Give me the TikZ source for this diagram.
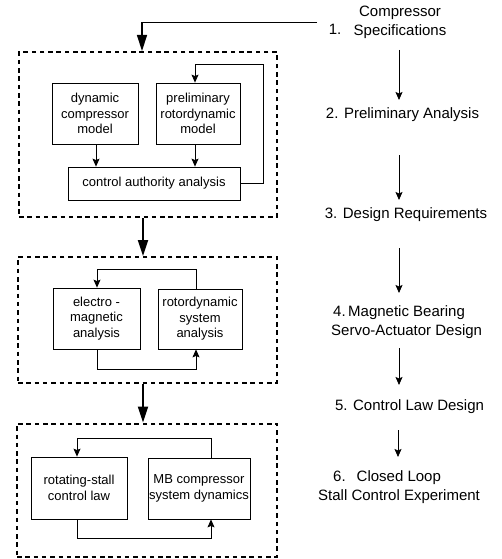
\documentclass[tikz,border=0pt]{standalone}
\usepackage{fontspec}
\setmainfont{Liberation Sans}
\usetikzlibrary{arrows.meta}
\begin{document}
\begin{tikzpicture}[x=1pt,y=-1pt,
  box/.style={draw,line width=0.8pt,align=center,inner sep=0pt,font=\fontsize{13}{15.5}\selectfont},
  group/.style={draw,line width=2pt,dash pattern=on 4.5pt off 3.8pt,inner sep=0pt},
  thinarr/.style={line width=0.8pt,-{Stealth[length=8pt,width=7pt,inset=1.5pt]}},
  thickarr/.style={line width=1.8pt,-{Triangle[length=16pt,width=10pt]}},
  lbl/.style={inner sep=0pt,font=\fontsize{15}{18.5}\selectfont}]
\useasboundingbox (0,0) rectangle (502,559);

% dashed groups
\node[group,minimum width=258,minimum height=165] (g1) at (148,134.5) {};
\node[group,minimum width=259,minimum height=126] (g2) at (147.5,320) {};
\node[group,minimum width=260,minimum height=133] (g3) at (147,490) {};

% group 1
\node[box,minimum width=86,minimum height=61] (dcm) at (95,113.5) {dynamic\\compressor\\model};
\node[box,minimum width=84,minimum height=61] (prm) at (198,113.5) {preliminary\\rotordynamic\\model};
\node[box,minimum width=172,minimum height=33] (caa) at (154,183.5) {control authority analysis};
\draw[thinarr] ([xshift=1pt]dcm.south) -- ([xshift=1pt]dcm.south |- caa.north);
\draw[thinarr] ([xshift=-3pt]prm.south) -- ([xshift=-3pt]prm.south |- caa.north);
\coordinate (fb1) at (263,64);
\draw[thinarr] (caa.east) -| (fb1) -| ([xshift=-3pt]prm.north);

% group 2
\node[box,minimum width=87,minimum height=61] (ema) at (96.5,318.5) {electro -\\magnetic\\analysis};
\node[box,minimum width=84,minimum height=60] (rsa) at (200,319) {rotordynamic\\system\\analysis};
\coordinate (fb2t) at (196,269);
\coordinate (fb2b) at (97,369);
\draw[thinarr] ([xshift=-4pt]rsa.north) -- ([xshift=-4pt]rsa.north |- fb2t) -| ([xshift=0.5pt]ema.north);
\draw[thinarr] ([xshift=0.5pt]ema.south) -- ([xshift=0.5pt]ema.south |- fb2b) -| ([xshift=-4pt]rsa.south);

% group 3
\node[box,minimum width=96,minimum height=62] (rsc) at (79,488) {rotating-stall\\control law};
\node[box,minimum width=102,minimum height=61] (mbc) at (199,488.5) {MB compressor\\system dynamics};
\coordinate (fb3t) at (211,438);
\coordinate (fb3b) at (77,538);
\draw[thinarr] ([xshift=12pt]mbc.north) -- ([xshift=12pt]mbc.north |- fb3t) -| ([xshift=-2pt]rsc.north);
\draw[thinarr] ([xshift=-2pt]rsc.south) -- ([xshift=-2pt]rsc.south |- fb3b) -| ([xshift=12pt]mbc.south);

% right column
\node[lbl] (n1) at (335,29) {1.};
\node[lbl,align=center] (s1) at (400,22.5) {Compressor\\Specifications};
\node[lbl] (s2) at (402.5,115) {2. Preliminary Analysis};
\node[lbl] (s3) at (406,215) {3. Design Requirements};
\node[lbl,align=left,anchor=west] (s4) at (331,322) {\hspace{2pt}4.\,Magnetic Bearing\\Servo-Actuator Design};
\node[lbl] (s5) at (409.5,407) {5. Control Law Design};
\node[lbl,align=left,anchor=west] (s6) at (318,487) {\hspace{15pt}6.\hspace{11pt}Closed Loop\\Stall Control Experiment};

\coordinate (c1) at (317,22.7);
\coordinate (top) at (142,22.7);
\draw[thickarr,line width=1.4pt] (c1) -- (top) -- (top |- g1.north);
\draw[thickarr] (g1.south -| 143,0) -- (g2.north -| 143,0);
\draw[thickarr] (g2.south -| 143,0) -- (g3.north -| 143,0);

\draw[thinarr] (399,50) -- (399,100);
\draw[thinarr] (399,155) -- (399,200);
\draw[thinarr] (399,248) -- (399,293);
\draw[thinarr] (399,348) -- (399,385);
\draw[thinarr] (398,430) -- (398,457);
\end{tikzpicture}
\end{document}
